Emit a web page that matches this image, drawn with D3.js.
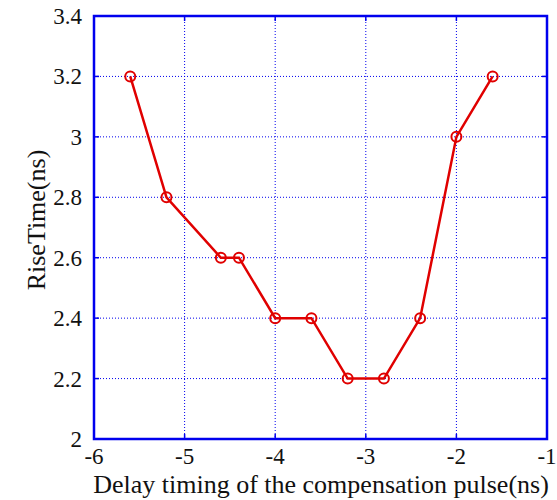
<!DOCTYPE html>
<html><head><meta charset="utf-8">
<script src="https://cdn.jsdelivr.net/npm/d3@7"></script>
<style>body{margin:0;background:#fff}</style></head>
<body><svg id="c" width="557" height="500"></svg>
<script>
const xValues = [-5.6, -5.2, -4.6, -4.4, -4.0, -3.6, -3.2, -2.8, -2.4, -2.0, -1.6];
const yValues = [3.2, 2.8, 2.6, 2.6, 2.4, 2.4, 2.2, 2.2, 2.4, 3.0, 3.2];
const xTicks = [-6, -5, -4, -3, -2, -1];
const yTicks = [2, 2.2, 2.4, 2.6, 2.8, 3, 3.2, 3.4];
const xTitle = "Delay timing of the compensation pulse(ns)";
const yTitle = "RiseTime(ns)";

const svg = d3.select("#c");
const L = 94, R = 547, T = 16, B = 439;
const x = d3.scaleLinear().domain([-6, -1]).range([L, R]);
const y = d3.scaleLinear().domain([2, 3.4]).range([B, T]);
const blue = "#0000ee";
const font = "'Liberation Serif', 'Times New Roman', serif";

// grid
const g = svg.append("g");
g.selectAll(".vx").data(xTicks.slice(1, -1)).enter().append("line")
  .attr("x1", d => x(d)).attr("x2", d => x(d)).attr("y1", T).attr("y2", B)
  .attr("stroke", blue).attr("stroke-width", 1).attr("stroke-dasharray", "1,2");
g.selectAll(".hy").data(yTicks.slice(1, -1)).enter().append("line")
  .attr("y1", d => y(d)).attr("y2", d => y(d)).attr("x1", L).attr("x2", R)
  .attr("stroke", blue).attr("stroke-width", 1).attr("stroke-dasharray", "1,2");

// inward ticks
const tl = 5;
xTicks.forEach(d => {
  g.append("line").attr("x1", x(d)).attr("x2", x(d)).attr("y1", B).attr("y2", B - tl).attr("stroke", blue).attr("stroke-width", 1.5);
  g.append("line").attr("x1", x(d)).attr("x2", x(d)).attr("y1", T).attr("y2", T + tl).attr("stroke", blue).attr("stroke-width", 1.5);
});
yTicks.forEach(d => {
  g.append("line").attr("x1", L).attr("x2", L + tl).attr("y1", y(d)).attr("y2", y(d)).attr("stroke", blue).attr("stroke-width", 1.5);
  g.append("line").attr("x1", R).attr("x2", R - tl).attr("y1", y(d)).attr("y2", y(d)).attr("stroke", blue).attr("stroke-width", 1.5);
});

// frame
svg.append("rect").attr("x", L).attr("y", T).attr("width", R - L).attr("height", B - T)
  .attr("fill", "none").attr("stroke", blue).attr("stroke-width", 2.5);

// tick labels
svg.selectAll(".xl").data(xTicks).enter().append("text")
  .attr("x", d => x(d)).attr("y", 464).attr("text-anchor", "middle")
  .attr("font-family", font).attr("font-size", 23).attr("fill", "#111")
  .text(d => d);
svg.selectAll(".yl").data(yTicks).enter().append("text")
  .attr("x", 82).attr("y", d => y(d) + 8).attr("text-anchor", "end")
  .attr("font-family", font).attr("font-size", 23).attr("fill", "#111")
  .text(d => d);

// titles
svg.append("text").attr("x", 321).attr("y", 493).attr("text-anchor", "middle")
  .attr("font-family", font).attr("font-size", 26).attr("fill", "#111").text(xTitle);
svg.append("text").attr("transform", `translate(45,220) rotate(-90)`)
  .attr("text-anchor", "middle")
  .attr("font-family", font).attr("font-size", 26).attr("fill", "#111").text(yTitle);

// line and markers
const pts = xValues.map((v, i) => [v, yValues[i]]);
svg.append("path").datum(pts)
  .attr("d", d3.line().x(d => x(d[0])).y(d => y(d[1])))
  .attr("fill", "none").attr("stroke", "#e00000").attr("stroke-width", 2.5);
svg.selectAll(".pt").data(pts).enter().append("circle")
  .attr("cx", d => x(d[0])).attr("cy", d => y(d[1])).attr("r", 5)
  .attr("fill", "none").attr("stroke", "#e00000").attr("stroke-width", 2);
</script></body></html>
